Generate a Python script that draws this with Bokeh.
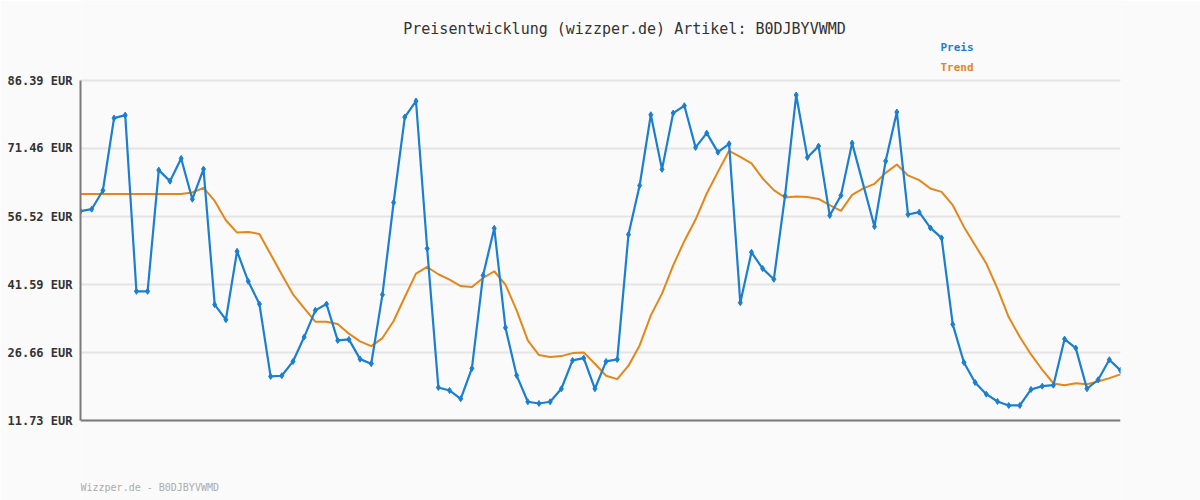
from bokeh.plotting import figure
from bokeh.models import Range1d, FixedTicker, CustomJSTickFormatter, Label, Span
from bokeh.embed import file_html
from bokeh.resources import INLINE

title_text = "Preisentwicklung (wizzper.de) Artikel: B0DJBYVWMD"
footer_text = "Wizzper.de - B0DJBYVWMD"
y_ticks = [11.73, 26.66, 41.59, 56.52, 71.46, 86.39]

preis_x = list(range(0, 70)) + list(range(71, 94))
preis = [57.69, 58.13, 62.24, 78.14, 78.80, 40.10, 40.10, 66.71, 64.29, 69.28,
         60.33, 66.93, 37.17, 33.87, 48.89, 42.30, 37.30, 21.41, 21.56, 24.70,
         30.05, 35.92, 37.30, 29.32, 29.54, 25.21, 24.20, 39.37, 59.60, 78.36,
         81.88, 49.49, 18.99, 18.33, 16.50, 23.16, 43.62, 53.95, 32.12, 21.63,
         15.84, 15.47, 15.84, 18.70, 24.92, 25.43, 18.70, 24.70, 25.14, 52.56,
         63.33, 78.87, 66.88, 79.24, 80.85, 71.70, 74.84, 70.66, 72.49, 37.61,
         48.67, 45.09, 42.74, 61.06, 83.20, 69.50, 71.98, 56.74, 61.14, 72.64,
         54.32, 68.69, 79.46, 56.96, 57.47, 54.02, 51.82, 32.84, 24.48,
         20.09, 17.51, 15.91, 15.03, 15.03, 18.55, 19.27, 19.49, 29.61, 27.63,
         18.70, 20.68, 25.07, 22.73]

trend_x = list(range(0, 94))
trend = [61.49, 61.49, 61.49, 61.49, 61.49, 61.49, 61.49, 61.49, 61.49, 61.49,
         61.80, 62.81, 59.95, 55.71, 53.00, 53.14, 52.70, 48.24, 43.77, 39.44,
         36.43, 33.43, 33.43, 32.91, 30.80, 29.10, 28.07, 29.83, 33.57, 38.85,
         43.99, 45.44, 43.84, 42.67, 41.26, 41.04, 43.02, 44.50, 41.57, 35.92,
         29.32, 26.09, 25.65, 25.87, 26.53, 26.68, 24.20, 21.56, 20.81, 23.76,
         28.22, 34.82, 39.59, 45.81, 51.16, 55.86, 61.58, 66.33, 70.95, 69.63,
         68.18, 64.88, 62.31, 60.70, 60.92, 60.80, 60.39, 59.01, 57.76, 61.27,
         62.70, 63.70, 66.10, 67.95, 65.54, 64.51, 62.68, 61.93, 59.01, 54.24,
         50.22, 46.19, 40.69, 34.45, 30.05, 26.24, 22.88, 19.87, 19.49, 19.93,
         19.71, 20.31, 21.03, 21.85]

BLUE = "#1a7fd0"
ORANGE = "#e5861a"
MONO = "DejaVu Sans Mono"

# layout (pixels, page coordinates; Bokeh's page has no body margin)
W, H = 1200, 500
OFF = 0
PLOT_L, PLOT_R = 80, 1120    # plot area left/right on page
PLOT_T, PLOT_B = 80, 420     # plot area top/bottom on page

x_lo, x_hi = trend_x[0], trend_x[-1]
y_lo, y_hi = y_ticks[0], y_ticks[-1]
upp = (y_hi - y_lo) / (PLOT_B - PLOT_T)          # value units per pixel
frame_top_px = OFF
frame_bot_px = OFF + H
y_start = y_lo - (frame_bot_px - PLOT_B) * upp
y_end = y_hi + (PLOT_T - frame_top_px) * upp


def px_to_data(px, py):
    return (x_lo + (px - PLOT_L) / (PLOT_R - PLOT_L) * (x_hi - x_lo),
            y_hi + (PLOT_T - py) * upp)


p = figure(width=W, height=H, output_backend="svg", toolbar_location=None,
           x_range=Range1d(x_lo, x_hi), y_range=Range1d(y_start, y_end),
           min_border_left=PLOT_L - OFF, min_border_right=OFF + W - PLOT_R,
           min_border_top=0, min_border_bottom=0)
p.background_fill_color = "#fafafa"
p.border_fill_color = "#fafafa"
p.outline_line_color = None

p.xaxis.visible = False
p.xgrid.grid_line_color = None
p.ygrid.ticker = FixedTicker(ticks=y_ticks)
p.ygrid.grid_line_color = "#e4e4e4"
p.ygrid.grid_line_width = 2

p.yaxis.ticker = FixedTicker(ticks=y_ticks)
p.yaxis.bounds = (y_lo, y_hi)
p.yaxis.formatter = CustomJSTickFormatter(code="return tick.toFixed(2) + ' EUR';")
p.yaxis.major_label_text_font = MONO
p.yaxis.major_label_text_font_style = "bold"
p.yaxis.major_label_text_font_size = "12px"
p.yaxis.major_label_text_color = "#333333"
p.yaxis.major_label_standoff = 8
p.yaxis.major_tick_in = 0
p.yaxis.major_tick_out = 0
p.yaxis.major_tick_line_color = None
p.yaxis.minor_tick_line_color = None
p.yaxis.axis_line_color = "#7a7a7a"
p.yaxis.axis_line_width = 2

p.add_layout(Span(location=y_lo, dimension="width", line_color="#7a7a7a", line_width=2))

p.line(trend_x, trend, line_color=ORANGE, line_width=2)
p.line(preis_x, preis, line_color=BLUE, line_width=2.2)
p.scatter(preis_x, preis, marker="diamond", size=6, color=BLUE)

tx, ty = px_to_data(624, 28.3)
p.add_layout(Label(x=tx, y=ty, text=title_text,
                   text_font=MONO, text_font_size="15px", text_color="#333333",
                   text_align="center", text_baseline="middle"))
lx, ly = px_to_data(940, 47.3)
p.add_layout(Label(x=lx, y=ly, text="Preis",
                   text_font=MONO, text_font_size="11px", text_font_style="bold",
                   text_color=BLUE, text_align="left", text_baseline="middle"))
lx, ly = px_to_data(940, 66.7)
p.add_layout(Label(x=lx, y=ly, text="Trend",
                   text_font=MONO, text_font_size="11px", text_font_style="bold",
                   text_color=ORANGE, text_align="left", text_baseline="middle"))
fx, fy = px_to_data(80, 486.7)
p.add_layout(Label(x=fx, y=fy, text=footer_text,
                   text_font=MONO, text_font_size="10px", text_color="#acacac",
                   text_align="left", text_baseline="middle"))

open("out.html", "w").write(file_html(p, INLINE))
